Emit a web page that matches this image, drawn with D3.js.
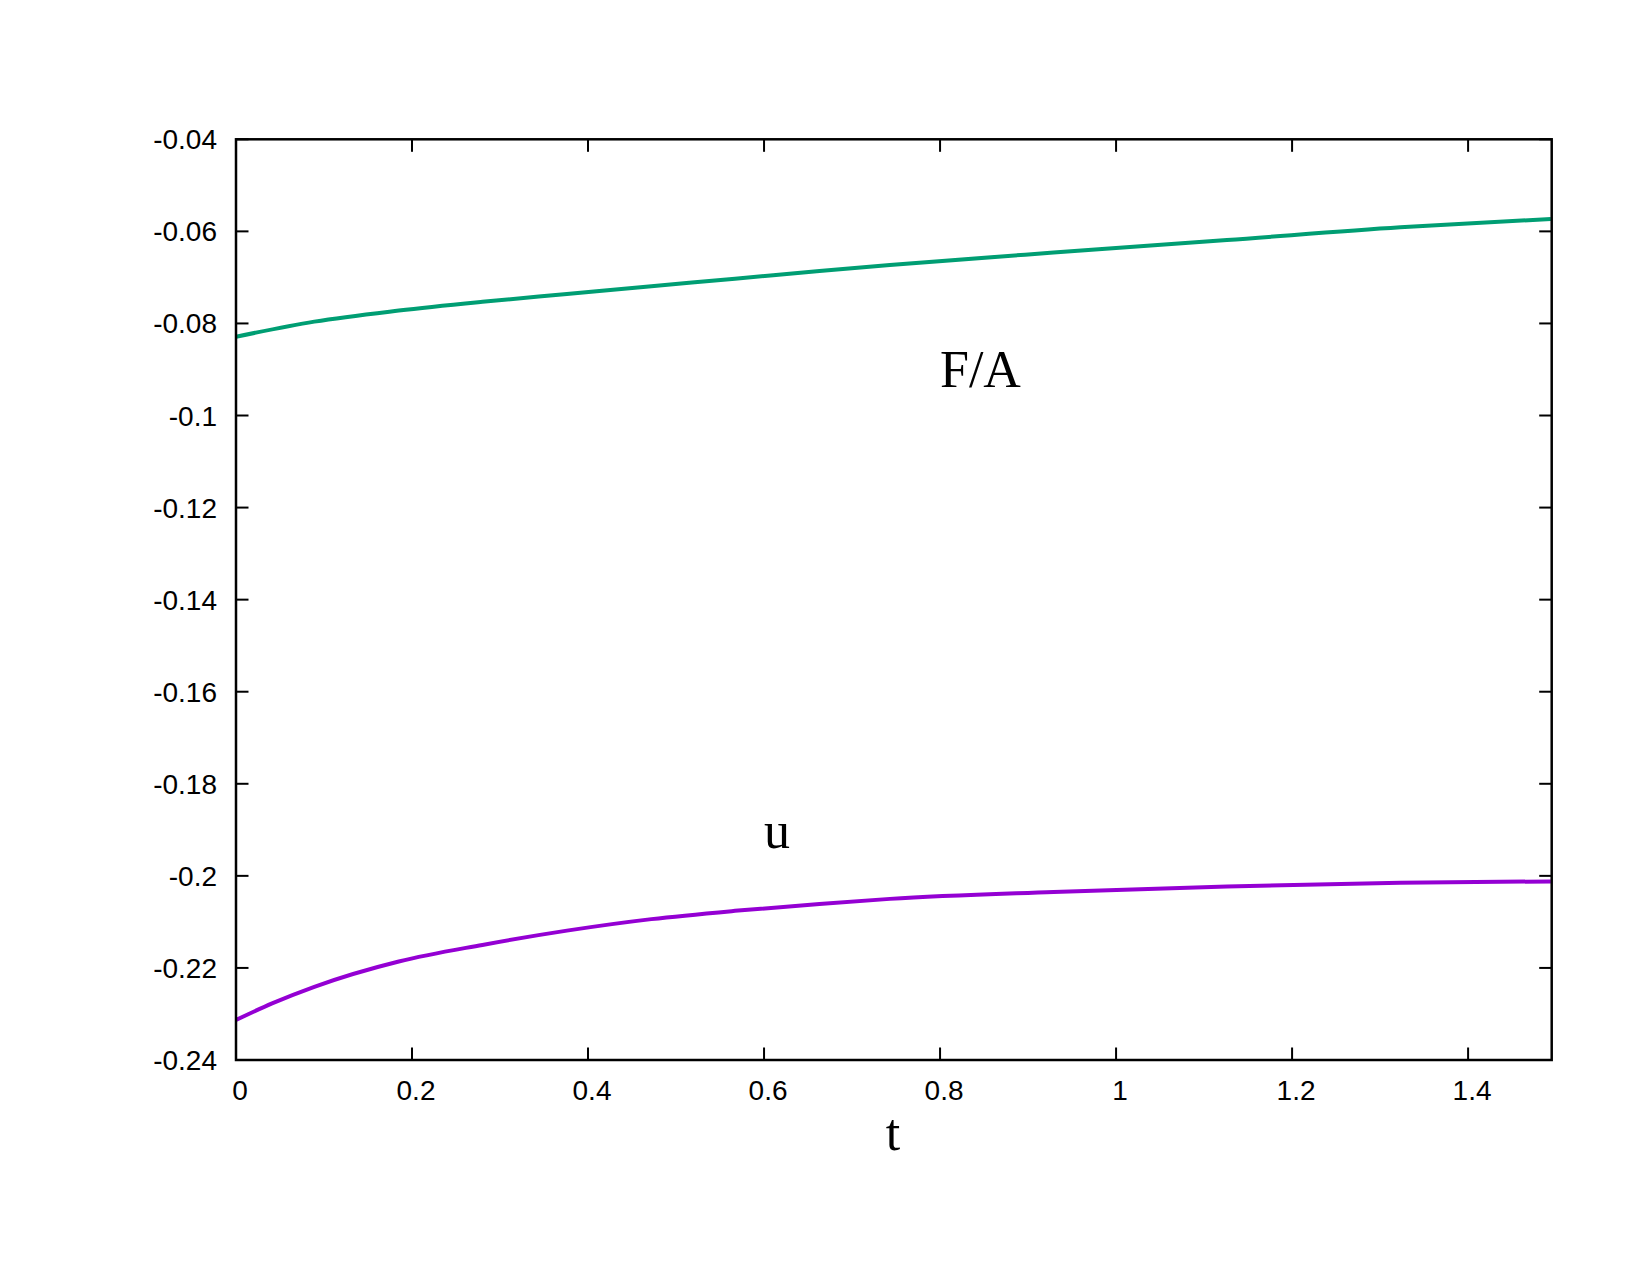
<!DOCTYPE html>
<html>
<head>
<meta charset="utf-8">
<script src="https://cdn.jsdelivr.net/npm/d3@7"></script>
<style>
  body { margin: 0; background: white; }
  svg { display: block; }
</style>
</head>
<body>
<svg id="chart" width="1650" height="1275"></svg>
<script>
// values
const tGreen = [0, 0.089, 0.185, 0.280, 0.376, 0.472, 0.567, 0.663, 0.743, 0.929, 1.126, 1.323, 1.494];
const faValues = [-0.0829, -0.0796, -0.0772, -0.0753, -0.0736, -0.0719, -0.0703, -0.0686, -0.0673, -0.0646, -0.0619, -0.0591, -0.0573];

const tPurple = [0, 0.041, 0.089, 0.185, 0.280, 0.376, 0.472, 0.567, 0.663, 0.743, 0.929, 1.126, 1.323, 1.494];
const uValues = [-0.2313, -0.2277, -0.2241, -0.2186, -0.2150, -0.2119, -0.2094, -0.2076, -0.2061, -0.2050, -0.2035, -0.2023, -0.2015, -0.2012];

const xTicks = [0, 0.2, 0.4, 0.6, 0.8, 1, 1.2, 1.4];
const yTicks = [-0.24, -0.22, -0.2, -0.18, -0.16, -0.14, -0.12, -0.1, -0.08, -0.06, -0.04];

const svg = d3.select("#chart");

const plot = { left: 236, right: 1551.7, top: 139.3, bottom: 1060 };

const xScale = d3.scaleLinear()
    .domain([0, 1.495])
    .range([plot.left, plot.right]);
const yScale = d3.scaleLinear()
    .domain([-0.24, -0.04])
    .range([plot.bottom, plot.top]);

const tickLen = 12.5;
const sans = "'Liberation Sans', Arial, sans-serif";
const serif = "'Liberation Serif', 'Times New Roman', serif";
// gnuplot style labels use a plain hyphen for the minus sign
const fmt = d => String(d);

// tick marks on all four sides, pointing inward
const gTicks = svg.append("g")
    .attr("stroke", "black")
    .attr("stroke-width", 2);

gTicks.selectAll(".xb").data(xTicks).enter().append("line")
    .attr("x1", d => xScale(d)).attr("x2", d => xScale(d))
    .attr("y1", plot.bottom).attr("y2", plot.bottom - tickLen);
gTicks.selectAll(".xt").data(xTicks).enter().append("line")
    .attr("x1", d => xScale(d)).attr("x2", d => xScale(d))
    .attr("y1", plot.top).attr("y2", plot.top + tickLen);
gTicks.selectAll(".yl").data(yTicks).enter().append("line")
    .attr("x1", plot.left).attr("x2", plot.left + tickLen)
    .attr("y1", d => yScale(d)).attr("y2", d => yScale(d));
gTicks.selectAll(".yr").data(yTicks).enter().append("line")
    .attr("x1", plot.right).attr("x2", plot.right - tickLen)
    .attr("y1", d => yScale(d)).attr("y2", d => yScale(d));

// tick labels
svg.append("g").selectAll("text").data(xTicks).enter().append("text")
    .attr("x", d => xScale(d) + 4)
    .attr("y", 1100)
    .attr("text-anchor", "middle")
    .style("font-family", sans)
    .style("font-size", "28px")
    .text(fmt);

svg.append("g").selectAll("text").data(yTicks).enter().append("text")
    .attr("x", 217)
    .attr("y", d => yScale(d) + 10)
    .attr("text-anchor", "end")
    .style("font-family", sans)
    .style("font-size", "28px")
    .text(fmt);

// curves
const line = d3.line()
    .x(d => xScale(d[0]))
    .y(d => yScale(d[1]))
    .curve(d3.curveMonotoneX);

svg.append("path")
    .datum(d3.zip(tGreen, faValues))
    .attr("fill", "none")
    .attr("stroke", "#009e73")
    .attr("stroke-width", 4)
    .attr("d", line);

svg.append("path")
    .datum(d3.zip(tPurple, uValues))
    .attr("fill", "none")
    .attr("stroke", "#9400d3")
    .attr("stroke-width", 4)
    .attr("d", line);

// frame
svg.append("rect")
    .attr("x", plot.left)
    .attr("y", plot.top)
    .attr("width", plot.right - plot.left)
    .attr("height", plot.bottom - plot.top)
    .attr("fill", "none")
    .attr("stroke", "black")
    .attr("stroke-width", 2.5);

// labels
svg.append("text")
    .attr("x", 940)
    .attr("y", 387)
    .style("font-family", serif)
    .style("font-size", "52px")
    .text("F/A");

svg.append("text")
    .attr("x", 777)
    .attr("y", 848)
    .attr("text-anchor", "middle")
    .style("font-family", serif)
    .style("font-size", "52px")
    .text("u");

svg.append("text")
    .attr("x", 893)
    .attr("y", 1150)
    .attr("text-anchor", "middle")
    .style("font-family", serif)
    .style("font-size", "52px")
    .text("t");
</script>
</body>
</html>
